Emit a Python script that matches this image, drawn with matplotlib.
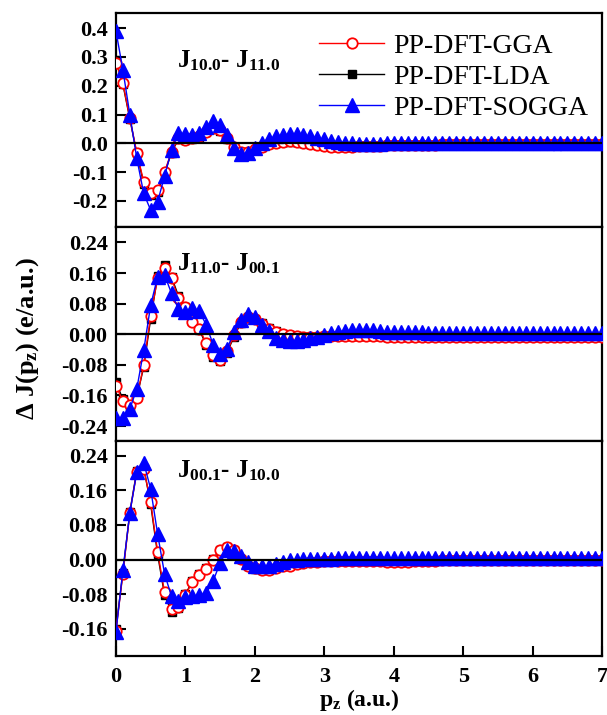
import matplotlib
matplotlib.use('Agg')
import matplotlib.pyplot as plt
from matplotlib.ticker import FixedLocator, FormatStrFormatter

plt.rcParams['font.family'] = ['Liberation Serif', 'DejaVu Serif']
plt.rcParams['mathtext.fontset'] = 'custom'
plt.rcParams['mathtext.rm'] = 'Liberation Serif'
plt.rcParams['mathtext.bf'] = 'Liberation Serif:bold'
plt.rcParams['mathtext.it'] = 'Liberation Serif:italic'

# momentum grid (a.u.), step 0.1
P_Z = [0.0, 0.1, 0.2, 0.3, 0.4, 0.5, 0.6, 0.7, 0.8, 0.9,
       1.0, 1.1, 1.2, 1.3, 1.4, 1.5, 1.6, 1.7, 1.8, 1.9,
       2.0, 2.1, 2.2, 2.3, 2.4, 2.5, 2.6, 2.7, 2.8, 2.9,
       3.0, 3.1, 3.2, 3.3, 3.4, 3.5, 3.6, 3.7, 3.8, 3.9,
       4.0, 4.1, 4.2, 4.3, 4.4, 4.5, 4.6, 4.7, 4.8, 4.9,
       5.0, 5.1, 5.2, 5.3, 5.4, 5.5, 5.6, 5.7, 5.8, 5.9,
       6.0, 6.1, 6.2, 6.3, 6.4, 6.5, 6.6, 6.7, 6.8, 6.9, 7.0]

# --- panel 1: J10.0 - J11.0 ---
top_gga = [0.280, 0.210, 0.087, -0.032, -0.133, -0.172, -0.162, -0.099, -0.029, 0.017,
           0.012, 0.017, 0.025, 0.040, 0.052, 0.046, 0.017, -0.012, -0.029, -0.029,
           -0.020, -0.012, -0.002, 0.002, 0.006, 0.007, 0.006, 0.002, -0.002, -0.007,
           -0.010, -0.012, -0.013, -0.013, -0.012, -0.011, -0.010, -0.009, -0.008, -0.007,
           -0.007, -0.006, -0.006, -0.005, -0.005, -0.005, -0.005, -0.004, -0.004, -0.004,
           -0.004, -0.004, -0.004, -0.004, -0.004, -0.004, -0.004, -0.004, -0.004, -0.004,
           -0.004, -0.004, -0.004, -0.004, -0.004, -0.004, -0.004, -0.004, -0.004, -0.004, -0.004]
top_lda = [0.290, 0.205, 0.085, -0.035, -0.140, -0.178, -0.170, -0.105, -0.032, 0.014,
           0.010, 0.015, 0.023, 0.038, 0.050, 0.044, 0.015, -0.014, -0.031, -0.031,
           -0.022, -0.013, -0.004, 0.001, 0.005, 0.006, 0.005, 0.001, -0.003, -0.007,
           -0.010, -0.012, -0.013, -0.013, -0.012, -0.011, -0.010, -0.009, -0.008, -0.007,
           -0.007, -0.006, -0.006, -0.005, -0.005, -0.005, -0.005, -0.004, -0.004, -0.004,
           -0.004, -0.004, -0.004, -0.004, -0.004, -0.004, -0.004, -0.004, -0.004, -0.004,
           -0.004, -0.004, -0.004, -0.004, -0.004, -0.004, -0.004, -0.004, -0.004, -0.004, -0.004]
top_sogga = [0.390, 0.255, 0.100, -0.052, -0.174, -0.232, -0.203, -0.114, -0.023, 0.035,
             0.033, 0.028, 0.035, 0.058, 0.078, 0.065, 0.030, -0.017, -0.038, -0.035,
             -0.017, 0.000, 0.015, 0.024, 0.029, 0.032, 0.032, 0.029, 0.024, 0.019,
             0.014, 0.009, 0.005, 0.002, 0.000, -0.001, -0.002, -0.002, -0.001, 0.000,
             0.001, 0.001, 0.002, 0.002, 0.002, 0.002, 0.002, 0.002, 0.002, 0.002,
             0.002, 0.002, 0.002, 0.002, 0.002, 0.002, 0.002, 0.002, 0.002, 0.002,
             0.002, 0.002, 0.002, 0.002, 0.002, 0.002, 0.002, 0.002, 0.002, 0.002, 0.002]

# --- panel 2: J11.0 - J00.1 ---
mid_gga = [-0.134, -0.175, -0.185, -0.167, -0.080, 0.048, 0.146, 0.174, 0.146, 0.094,
           0.070, 0.032, 0.015, -0.024, -0.055, -0.068, -0.045, -0.003, 0.032, 0.045,
           0.039, 0.028, 0.015, 0.006, 0.000, -0.003, -0.005, -0.006, -0.006, -0.006,
           -0.005, -0.005, -0.004, -0.004, -0.004, -0.004, -0.005, -0.005, -0.005, -0.006,
           -0.006, -0.006, -0.006, -0.006, -0.006, -0.006, -0.006, -0.006, -0.006, -0.006,
           -0.006, -0.006, -0.006, -0.006, -0.006, -0.006, -0.006, -0.006, -0.006, -0.006,
           -0.006, -0.006, -0.006, -0.006, -0.006, -0.006, -0.006, -0.006, -0.006, -0.006, -0.006]
mid_lda = [-0.125, -0.170, -0.190, -0.165, -0.085, 0.040, 0.152, 0.180, 0.150, 0.100,
           0.072, 0.035, 0.012, -0.028, -0.060, -0.071, -0.048, -0.006, 0.030, 0.044,
           0.040, 0.030, 0.017, 0.008, 0.001, -0.003, -0.005, -0.006, -0.006, -0.006,
           -0.005, -0.005, -0.004, -0.004, -0.004, -0.004, -0.005, -0.005, -0.005, -0.006,
           -0.006, -0.006, -0.006, -0.006, -0.006, -0.006, -0.006, -0.006, -0.006, -0.006,
           -0.006, -0.006, -0.006, -0.006, -0.006, -0.006, -0.006, -0.006, -0.006, -0.006,
           -0.006, -0.006, -0.006, -0.006, -0.006, -0.006, -0.006, -0.006, -0.006, -0.006, -0.006]
mid_sogga = [-0.220, -0.218, -0.195, -0.143, -0.042, 0.076, 0.150, 0.155, 0.107, 0.066,
             0.059, 0.069, 0.061, 0.024, -0.027, -0.051, -0.038, 0.006, 0.037, 0.052,
             0.045, 0.025, 0.008, -0.010, -0.016, -0.018, -0.018, -0.016, -0.011, -0.007,
             -0.003, 0.002, 0.006, 0.009, 0.011, 0.012, 0.011, 0.010, 0.008, 0.007,
             0.006, 0.006, 0.005, 0.005, 0.005, 0.004, 0.004, 0.004, 0.004, 0.004,
             0.004, 0.004, 0.004, 0.004, 0.004, 0.004, 0.004, 0.004, 0.004, 0.004,
             0.004, 0.004, 0.004, 0.004, 0.004, 0.004, 0.004, 0.004, 0.004, 0.004, 0.004]

# --- panel 3: J00.1 - J10.0 ---
bot_gga = [-0.164, -0.033, 0.108, 0.202, 0.210, 0.133, 0.018, -0.076, -0.114, -0.110,
           -0.082, -0.052, -0.035, -0.022, 0.000, 0.021, 0.029, 0.023, 0.002, -0.015,
           -0.020, -0.025, -0.023, -0.020, -0.016, -0.014, -0.010, -0.008, -0.006, -0.005,
           -0.004, -0.004, -0.003, -0.003, -0.003, -0.003, -0.003, -0.004, -0.004, -0.005,
           -0.005, -0.005, -0.005, -0.004, -0.004, -0.003, -0.003, -0.002, -0.002, -0.002,
           -0.002, -0.002, -0.002, -0.002, -0.002, -0.002, -0.002, -0.002, -0.002, -0.002,
           -0.002, -0.002, -0.002, -0.002, -0.002, -0.002, -0.002, -0.002, -0.002, -0.002, -0.002]
bot_lda = [-0.160, -0.030, 0.110, 0.205, 0.212, 0.128, 0.012, -0.082, -0.120, -0.112,
           -0.080, -0.050, -0.033, -0.020, 0.002, 0.022, 0.029, 0.022, 0.001, -0.016,
           -0.021, -0.025, -0.023, -0.020, -0.016, -0.013, -0.010, -0.008, -0.006, -0.005,
           -0.004, -0.004, -0.003, -0.003, -0.003, -0.003, -0.003, -0.004, -0.004, -0.005,
           -0.005, -0.005, -0.005, -0.004, -0.004, -0.003, -0.003, -0.002, -0.002, -0.002,
           -0.002, -0.002, -0.002, -0.002, -0.002, -0.002, -0.002, -0.002, -0.002, -0.002,
           -0.002, -0.002, -0.002, -0.002, -0.002, -0.002, -0.002, -0.002, -0.002, -0.002, -0.002]
bot_sogga = [-0.168, -0.025, 0.107, 0.202, 0.224, 0.163, 0.059, -0.033, -0.085, -0.095,
             -0.087, -0.085, -0.083, -0.077, -0.049, -0.008, 0.021, 0.019, 0.008, -0.006,
             -0.014, -0.015, -0.014, -0.010, -0.006, -0.002, 0.000, 0.001, 0.002, 0.002,
             0.002, 0.002, 0.003, 0.003, 0.003, 0.003, 0.003, 0.003, 0.003, 0.003,
             0.003, 0.003, 0.003, 0.003, 0.003, 0.003, 0.003, 0.003, 0.003, 0.003,
             0.003, 0.003, 0.003, 0.003, 0.003, 0.003, 0.003, 0.003, 0.003, 0.003,
             0.003, 0.003, 0.003, 0.003, 0.003, 0.003, 0.003, 0.003, 0.003, 0.003, 0.003]

panel_labels = [r'$\mathbf{J_{10.0}}$- $\mathbf{J_{11.0}}$',
                r'$\mathbf{J_{11.0}}$- $\mathbf{J_{00.1}}$',
                r'$\mathbf{J_{00.1}}$- $\mathbf{J_{10.0}}$']
y_ticks = [[-0.2, -0.1, 0.0, 0.1, 0.2, 0.3, 0.4],
           [-0.24, -0.16, -0.08, 0.0, 0.08, 0.16, 0.24],
           [-0.16, -0.08, 0.0, 0.08, 0.16, 0.24]]
y_fmt = ['%.1f', '%.2f', '%.2f']
y_lims = [(-0.291, 0.453), (-0.28, 0.28), (-0.222, 0.273)]
label_pos = [(0.125, 0.745), (0.125, 0.80), (0.125, 0.83)]

data = [(top_gga, top_lda, top_sogga),
        (mid_gga, mid_lda, mid_sogga),
        (bot_gga, bot_lda, bot_sogga)]

fig = plt.figure(figsize=(6.07, 7.15), dpi=100)
axes = fig.subplots(3, 1, sharex=True)
fig.subplots_adjust(left=0.191, right=0.992, top=0.982, bottom=0.083, hspace=0)

for i, ax in enumerate(axes):
    gga, lda, sogga = data[i]
    ax.plot(P_Z, lda, color='black', lw=1, marker='s', ms=6,
            mfc='black', mec='black', label='PP-DFT-LDA', zorder=2)
    ax.plot(P_Z, gga, color='red', lw=1, marker='o', ms=7.5, mfc='white',
            mec='red', mew=1.3, label='PP-DFT-GGA', zorder=3)
    ax.plot(P_Z, sogga, color='blue', lw=1, marker='^', ms=10,
            mfc='blue', mec='blue', label='PP-DFT-SOGGA', zorder=4)
    ax.axhline(0, color='black', lw=1.6, zorder=5)

    ax.set_xlim(0, 7)
    ax.set_ylim(*y_lims[i])
    ax.yaxis.set_major_locator(FixedLocator(y_ticks[i]))
    ax.yaxis.set_major_formatter(FormatStrFormatter(y_fmt[i]))
    ax.tick_params(axis='y', direction='in', length=7, width=1.5, pad=6,
                   labelsize=16, left=True, right=False)
    ax.tick_params(axis='x', direction='in', length=7, width=1.5, pad=8,
                   labelsize=16, top=False, bottom=(i == 2))
    for lab in ax.get_yticklabels() + ax.get_xticklabels():
        lab.set_fontweight('bold')
    for sp in ax.spines.values():
        sp.set_linewidth(1.6)

    ax.text(label_pos[i][0], label_pos[i][1], panel_labels[i], transform=ax.transAxes,
            fontsize=18, fontweight='bold', va='baseline', ha='left')

# legend in the top panel, order GGA, LDA, SOGGA
h, l = axes[0].get_legend_handles_labels()
order = [1, 0, 2]
axes[0].legend([h[k] for k in order], [l[k] for k in order], loc='upper left',
               bbox_to_anchor=(0.418, 0.905), frameon=False, fontsize=20,
               handlelength=2.35, handletextpad=0.3, labelspacing=0.2,
               borderpad=0, borderaxespad=0)

axes[2].set_xticks([0, 1, 2, 3, 4, 5, 6, 7])
axes[2].set_xticklabels(['0', '1', '2', '3', '4', '5', '6', '7'])
for lab in axes[2].get_xticklabels():
    lab.set_fontweight('bold')
axes[2].set_xlabel(r'p$_\mathbf{z}$ (a.u.)', fontsize=17, fontweight='bold', labelpad=0)

fig.text(0.045, 0.527, r'$\mathbf{\Delta}$ J(p$_\mathbf{z}$) (e/a.u.)', rotation=90,
         fontsize=19, fontweight='bold', ha='center', va='center')

fig.savefig('out.png', dpi=100)
